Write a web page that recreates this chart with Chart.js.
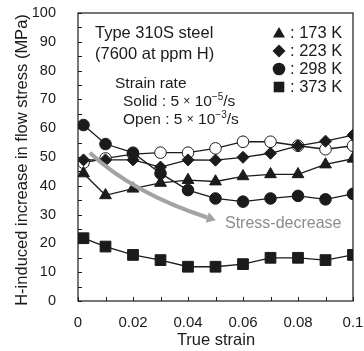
<!DOCTYPE html>
<html lang="en">
<head>
<meta charset="UTF-8" />
<title>H-induced increase in flow stress</title>
<script src="https://cdn.jsdelivr.net/npm/chart.js"></script>
<style>
  html, body { margin: 0; padding: 0; background: #fff; }
  #wrap { width: 364px; height: 351px; }
</style>
</head>
<body>
<div id="wrap"><canvas id="myChart"></canvas></div>
<script>
// true strain at each measurement
const strain = [0.002, 0.01, 0.02, 0.03, 0.04, 0.05, 0.06, 0.07, 0.08, 0.09, 0.1];

// H-induced increase in flow stress (MPa)
const k173 = [44.3, 36.7, 39, 41, 42, 41.5, 43.3, 44, 44, 47.4, 49.4];
const k223 = [49, 49, 49, 46.5, 49, 48.9, 49.9, 51.3, 53.9, 55.5, 57.6];
const k298 = [61.1, 54.5, 51.5, 44.3, 38.5, 35.6, 34.5, 35.6, 36.5, 35.3, 37.2];
const k298fast = [48, 49.5, 51, 51.5, 51.5, 53, 55.3, 55.3, 53.9, 52.7, 53.9];
const k373 = [21.8, 18.9, 16, 14.2, 11.9, 11.9, 12.8, 15, 15, 14.2, 16];

const legendLabels = ["173 K", "223 K", "298 K", "373 K"];

const xTickValues = [0, 0.02, 0.04, 0.06, 0.08, 0.1];
const xTickLabels = ["0", "0.02", "0.04", "0.06", "0.08", "0.1"];
const yTickValues = [0, 10, 20, 30, 40, 50, 60, 70, 80, 90, 100];
const yTickLabels = ["0", "10", "20", "30", "40", "50", "60", "70", "80", "90", "100"];

const FONT = "'Liberation Sans', Arial, Helvetica, sans-serif";
const INK = "#1b1b1b";

const pts = (ys) => strain.map((x, i) => ({ x: x, y: ys[i] }));

function series(label, ys, style, radius, fill, order) {
  return {
    label: label,
    data: pts(ys),
    showLine: true,
    borderColor: INK,
    borderWidth: 1.3,
    tension: 0,
    pointStyle: style,
    pointRadius: radius,
    pointBackgroundColor: fill,
    pointBorderColor: INK,
    pointBorderWidth: 1,
    order: order,
  };
}

// no extra room for overflowing tick labels, layout padding handles it
function noPad(s) {
  s.paddingLeft = 0;
  s.paddingRight = 0;
  s.paddingTop = 0;
  s.paddingBottom = 0;
}

// draws a string made of runs (used for the superscripts)
function drawRuns(ctx, x, y, runs) {
  for (const r of runs) {
    ctx.font = r.size + "px " + FONT;
    ctx.fillText(r.t, x, y + (r.dy || 0));
    x += ctx.measureText(r.t).width;
  }
}

const overlay = {
  id: "overlay",
  afterDraw(chart) {
    const { ctx, chartArea: a, scales } = chart;
    const xs = scales.x, ys = scales.y;
    ctx.save();

    // frame
    ctx.strokeStyle = INK;
    ctx.lineWidth = 1.2;
    ctx.strokeRect(a.left, a.top, a.right - a.left, a.bottom - a.top);

    // inward ticks
    ctx.lineWidth = 1;
    ctx.beginPath();
    for (let i = 0; i <= 20; i++) {
      const py = Math.round(ys.getPixelForValue(i * 5)) + 0.5;
      ctx.moveTo(a.left, py);
      ctx.lineTo(a.left + 4, py);
    }
    for (let i = 0; i <= 10; i++) {
      const px = Math.round(xs.getPixelForValue(i * 0.01)) + 0.5;
      ctx.moveTo(px, a.bottom);
      ctx.lineTo(px, a.bottom - 4);
    }
    ctx.stroke();

    // gray arrow
    const p0 = [xs.getPixelForValue(0.0043), ys.getPixelForValue(51.5)];
    const p1 = [xs.getPixelForValue(0.02), ys.getPixelForValue(37.5)];
    const p2 = [xs.getPixelForValue(0.047), ys.getPixelForValue(29)];
    ctx.strokeStyle = "#a3a3a3";
    ctx.fillStyle = "#a3a3a3";
    ctx.lineWidth = 4;
    ctx.beginPath();
    ctx.moveTo(p0[0], p0[1]);
    ctx.quadraticCurveTo(p1[0], p1[1], p2[0], p2[1]);
    ctx.stroke();
    const ang = Math.atan2(p2[1] - p1[1], p2[0] - p1[0]);
    const tip = [p2[0] + Math.cos(ang) * 9, p2[1] + Math.sin(ang) * 9];
    ctx.beginPath();
    ctx.moveTo(tip[0], tip[1]);
    ctx.lineTo(p2[0] + Math.cos(ang + Math.PI / 2) * 5.5, p2[1] + Math.sin(ang + Math.PI / 2) * 5.5);
    ctx.lineTo(p2[0] + Math.cos(ang - Math.PI / 2) * 5.5, p2[1] + Math.sin(ang - Math.PI / 2) * 5.5);
    ctx.closePath();
    ctx.fill();

    ctx.font = "16px " + FONT;
    ctx.textBaseline = "middle";
    ctx.textAlign = "left";
    ctx.fillStyle = "#8c8c8c";
    ctx.fillText("Stress-decrease", 225, 224);

    // annotation text
    ctx.fillStyle = INK;
    ctx.font = "16.5px " + FONT;
    ctx.fillText("Type 310S steel", 95, 33);
    ctx.fillText("(7600 at ppm H)", 95, 54);
    ctx.font = "15.5px " + FONT;
    ctx.fillText("Strain rate", 115, 84);
    drawRuns(ctx, 123, 102, [
      { t: "Solid : 5 ", size: 15.5 },
      { t: "×", size: 12 },
      { t: " 10", size: 15.5 },
      { t: "−5", size: 10, dy: -5 },
      { t: "/s", size: 15.5 },
    ]);
    drawRuns(ctx, 123, 120, [
      { t: "Open : 5 ", size: 15.5 },
      { t: "×", size: 12 },
      { t: " 10", size: 15.5 },
      { t: "−3", size: 10, dy: -5 },
      { t: "/s", size: 15.5 },
    ]);

    // legend
    const marks = [
      { pointStyle: "triangle", radius: 7, rotation: 0 },
      { pointStyle: "rectRot", radius: 6.5, rotation: 0 },
      { pointStyle: "circle", radius: 6.3, rotation: 0 },
      { pointStyle: "rect", radius: 7.5, rotation: 0 },
    ];
    const rowY = [33, 51, 69, 87];
    ctx.font = "16.5px " + FONT;
    legendLabels.forEach((lab, i) => {
      ctx.fillStyle = INK;
      ctx.strokeStyle = INK;
      ctx.lineWidth = 1;
      Chart.helpers.drawPoint(ctx, marks[i], 279, rowY[i] + (i === 0 ? 1 : 0));
      ctx.fillStyle = INK;
      ctx.fillText(": " + lab, 290, rowY[i]);
    });

    // axis titles
    ctx.font = "16.5px " + FONT;
    ctx.textAlign = "center";
    ctx.fillText("True strain", 216, 340);
    ctx.translate(22, 160);
    ctx.rotate(-Math.PI / 2);
    ctx.fillText("H-induced increase in flow stress (MPa)", 0, 0);
    ctx.restore();
  },
};

const config = {
  type: "line",
  data: {
    datasets: [
      series("223 K", k223, "rectRot", 6, INK, 1),
      series("173 K", k173, "triangle", 6.8, INK, 2),
      series("298 K", k298, "circle", 5.8, INK, 3),
      series("298 K open", k298fast, "circle", 5.8, "#ffffff", 4),
      series("373 K", k373, "rect", 7.6, INK, 5),
    ],
  },
  options: {
    responsive: true,
    maintainAspectRatio: false,
    animation: false,
    devicePixelRatio: 1,
    layout: { padding: { top: 13, right: 11, left: 0, bottom: 0 } },
    plugins: { legend: { display: false }, tooltip: { enabled: false } },
    scales: {
      x: {
        type: "linear",
        min: 0,
        max: 0.1,
        afterBuildTicks: (s) => { s.ticks = xTickValues.map((v) => ({ value: v })); },
        afterFit: (s) => { s.height = 50; noPad(s); },
        ticks: {
          font: { size: 15, family: FONT },
          color: INK,
          padding: 5,
          maxRotation: 0,
          callback: (v, i) => xTickLabels[i],
        },
        grid: { display: false },
        border: { display: false },
      },
      y: {
        min: 0,
        max: 100,
        afterBuildTicks: (s) => { s.ticks = yTickValues.map((v) => ({ value: v })); },
        afterFit: (s) => { s.width = 78; noPad(s); },
        ticks: {
          font: { size: 14.5, family: FONT },
          color: INK,
          padding: 14,
          callback: (v, i) => yTickLabels[i],
        },
        grid: { display: false },
        border: { display: false },
      },
    },
  },
  plugins: [overlay],
};

new Chart(document.getElementById("myChart"), config);
</script>
</body>
</html>
